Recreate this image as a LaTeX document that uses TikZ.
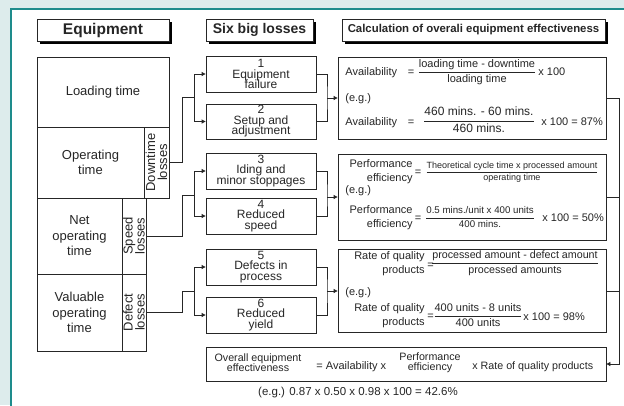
\documentclass[tikz,border=0pt]{standalone}
\usepackage{amsmath}
\usepackage{fontspec}
\setmainfont{Liberation Sans}
\usetikzlibrary{arrows.meta,shadows}
\definecolor{panelbg}{RGB}{221,236,236}
\definecolor{frameteal}{RGB}{30,140,140}
\newcommand{\tightskip}{\lineskiplimit=-20pt\relax}

\begin{document}
\begin{tikzpicture}[x=1pt,y=-1pt,line width=0.8pt,draw=black!85,text=black!85,
	box/.style={draw=black!85,fill=white,inner sep=0pt,align=center},
	hdr/.style={box,line width=1pt,drop shadow={shadow xshift=3pt,shadow yshift=-3pt,fill=black,opacity=1}},
	eqtxt/.style={font=\fontsize{13}{15.5}\selectfont\tightskip},
	sidetxt/.style={inner sep=0pt,rotate=90,align=center,font=\fontsize{13}{12}\selectfont\tightskip},
	losstxt/.style={font=\fontsize{12}{10.5}\selectfont\tightskip},
	ctxt/.style={font=\fontsize{11}{12}\selectfont,inner sep=0pt},
	ctwo/.style={inner sep=0pt,align=right,anchor=east,font=\fontsize{11}{14}\selectfont\tightskip},
	cmid/.style={inner sep=0pt,align=center,font=\fontsize{10.7}{10}\selectfont\tightskip},
	arr/.style={-{Triangle[length=4pt,width=4pt]}}]

	\useasboundingbox (0,0) rectangle (624,405);
	\fill[panelbg] (0,0) rectangle (624,405);
	\filldraw[fill=white,draw=frameteal,line width=1.2pt] (11,9) rectangle (640,420);

	\node[hdr,minimum width=132,minimum height=22,font=\bfseries\fontsize{15.5}{16}\selectfont] (hEquip) at (103,30) {Equipment};
	\node[hdr,minimum width=107,minimum height=22,font=\bfseries\fontsize{14}{15}\selectfont] (hLoss) at (259.5,30) {Six big losses};
	\node[hdr,minimum width=263,minimum height=22,font=\bfseries\fontsize{11.4}{12}\selectfont] (hCalc) at (473.5,30) {Calculation of overali equipment effectiveness};

	\node[box,eqtxt,minimum width=132,minimum height=70] (load) at (103,92) {Loading time};
	\node[box,eqtxt,minimum width=107,minimum height=71] (optime) at (90.5,162.5) {Operating\\time};
	\node[box,minimum width=25,minimum height=71] (down) at (156.5,162.5) {};
	\node[sidetxt] (downT) at (down) {Downtime\\losses};
	\node[box,eqtxt,minimum width=85,minimum height=76] (netop) at (79.5,236) {Net\\operating\\time};
	\node[box,minimum width=24,minimum height=76] (speed) at (134,236) {};
	\node[sidetxt] (speedT) at (speed) {Speed\\losses};
	\node[box,eqtxt,minimum width=85,minimum height=77] (valop) at (79.5,312.5) {Valuable\\operating\\time};
	\node[box,minimum width=24,minimum height=77] (defect) at (134,312.5) {};
	\node[sidetxt] (defectT) at (defect) {Defect\\losses};

	\node[box,losstxt,minimum width=110,minimum height=36] (l1) at (261,74) {1\\Equipment\\failure};
	\node[box,losstxt,minimum width=110,minimum height=35] (l2) at (261,121.5) {2\\Setup and\\adjustment};
	\node[box,losstxt,minimum width=110,minimum height=36] (l3) at (261,171) {3\\Iding and\\minor stoppages};
	\node[box,losstxt,minimum width=110,minimum height=36] (l4) at (261,216) {4\\Reduced\\speed};
	\node[box,losstxt,minimum width=110,minimum height=36] (l5) at (261,267) {5\\Defects in\\process};
	\node[box,losstxt,minimum width=110,minimum height=36] (l6) at (261,315) {6\\Reduced\\yield};

	\node[box,minimum width=268,minimum height=82] (cA) at (472,98) {};
	\node[box,minimum width=268,minimum height=86] (cB) at (472,197) {};
	\node[box,minimum width=268,minimum height=83] (cC) at (472,291) {};
	\node[box,minimum width=400,minimum height=34] (cD) at (406,364) {};

	\coordinate (jA) at (194,97.75);
	\coordinate (jB) at (194,195.5);
	\coordinate (jC) at (194,291);
	\draw (down.east) -- ++(13,0) |- (jA);
	\draw (speed.east) -- ++(36,0) |- (jB);
	\draw (defect.east) -- ++(36,0) |- (jC);
	\draw[arr] (jA) |- (l1.west);
	\draw[arr] (jA) |- (l2.west);
	\draw[arr] (jB) |- (l3.west);
	\draw[arr] (jB) |- (l4.west);
	\draw[arr] (jC) |- (l5.west);
	\draw[arr] (jC) |- (l6.west);

	\coordinate (kA) at (327,98);
	\coordinate (kB) at (327,197);
	\coordinate (kC) at (327,291);
	\draw (l1.east) -| (kA) |- (l2.east);
	\draw (l3.east) -| (kB) |- (l4.east);
	\draw (l5.east) -| (kC) |- (l6.east);
	\draw[arr] (kA) -- (cA.west);
	\draw[arr] (kB) -- (cB.west);
	\draw[arr] (kC) -- (cC.west);

	\coordinate (kR) at (619,98);
	\draw[arr] (cA.east) -- (kR) |- (cD.east);
	\draw (cB.east) -- (cB.east -| kR);
	\draw (cC.east) -- (cC.east -| kR);

	\node[ctxt,anchor=base west] (avLab) at (345,75) {Availability};
	\node[ctxt,anchor=base] (avEq) at (411,75) {=};
	\node[ctxt,anchor=base] (avFr) at (477,74.75) {$\dfrac{\text{loading time - downtime}}{\text{loading time}}$};
	\node[ctxt,anchor=base west] (avX) at (538,75) {x 100};
	\node[ctxt,anchor=base west] (avEg) at (345,101.5) {(e.g.)};
	\node[ctxt,anchor=base west] (avLab2) at (345,125) {Availability};
	\node[ctxt,anchor=base] (avEq2) at (411,125) {=};
	\node[ctxt,anchor=base,font=\fontsize{12}{13}\selectfont] (avFr2) at (479,124) {$\dfrac{\text{460 mins. - 60 mins.}}{\text{460 mins.}}$};
	\node[ctxt,anchor=base west] (avX2) at (541,125) {x 100 = 87\%};

	\node[ctwo] (peLab) at (413,172) {Performance\\efficiency};
	\node[ctxt,anchor=base] (peEq) at (418,175) {=};
	\node[ctxt,anchor=base,font=\fontsize{9}{10}\selectfont] (peFr) at (512,174) {$\dfrac{\text{Theoretical cycle time x processed amount}}{\text{operating time}}$};
	\node[ctxt,anchor=base west] (peEg) at (345,193.5) {(e.g.)};
	\node[ctwo] (peLab2) at (413,218) {Performance\\efficiency};
	\node[ctxt,anchor=base] (peEq2) at (418,221) {=};
	\node[ctxt,anchor=base,font=\fontsize{9.7}{11}\selectfont] (peFr2) at (480,220.5) {$\dfrac{\text{0.5 mins./unit x 400 units}}{\text{400 mins.}}$};
	\node[ctxt,anchor=base west] (peX2) at (542,221) {x 100 = 50\%};

	\node[ctwo] (qrLab) at (425,264) {Rate of quality\\products};
	\node[ctxt,anchor=base] (qrEq) at (430.5,268) {=};
	\node[ctxt,anchor=base,font=\fontsize{10.7}{12}\selectfont] (qrFr) at (515,266) {$\dfrac{\text{processed amount - defect amount}}{\text{processed amounts}}$};
	\node[ctxt,anchor=base west] (qrEg) at (345,295.5) {(e.g.)};
	\node[ctwo] (qrLab2) at (425,316) {Rate of quality\\products};
	\node[ctxt,anchor=base] (qrEq2) at (430.5,319.5) {=};
	\node[ctxt,anchor=base] (qrFr2) at (478,318.75) {$\dfrac{\text{400 units - 8 units}}{\text{400 units}}$};
	\node[ctxt,anchor=base west] (qrX2) at (523,320) {x 100 = 98\%};

	\node[cmid] (ovLab) at (258,363) {Overall equipment\\effectiveness};
	\node[ctxt,anchor=base west] (ovAv) at (316,369.5) {= Availability x};
	\node[cmid] (ovPe) at (430,363) {Performance\\efficiency};
	\node[ctxt,anchor=base west,font=\fontsize{10.7}{12}\selectfont] (ovQr) at (472,369.5) {x Rate of quality products};
	\node[ctxt,font=\fontsize{11.5}{12}\selectfont] (ovEg) at (358,393) {(e.g.) 0.87 x 0.50 x 0.98 x 100 = 42.6\%};

\end{tikzpicture}
\end{document}
